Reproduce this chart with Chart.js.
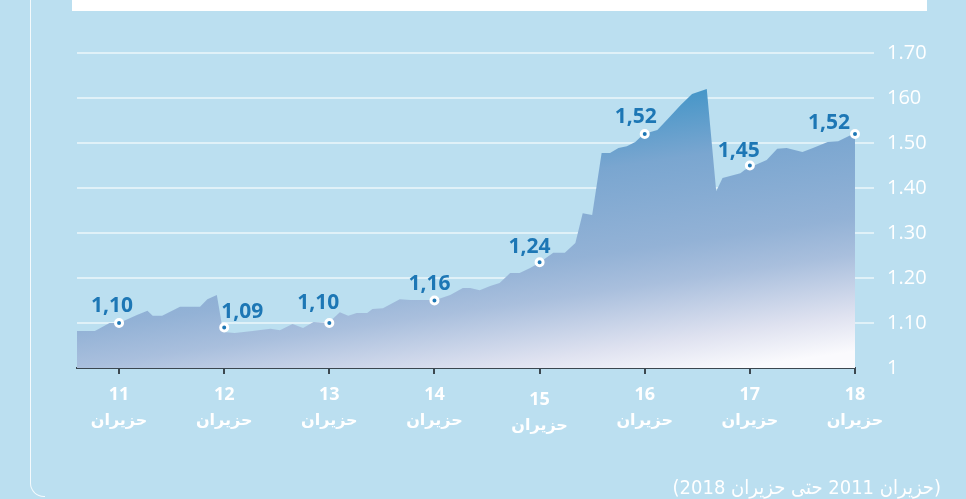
<!DOCTYPE html>
<html>
<head>
<meta charset="utf-8">
<script src="https://cdn.jsdelivr.net/npm/chart.js@4.4.0/dist/chart.umd.min.js"></script>
<style>
  html, body { margin: 0; padding: 0; }
  body { width: 966px; height: 499px; background: #bbdff0; position: relative; overflow: hidden; }
  #topbar { position: absolute; left: 72px; top: 0; width: 855px; height: 11px; background: #fff; }
  #frame { position: absolute; left: 30px; top: -20px; width: 14px; height: 516px;
           border-left: 1.5px solid rgba(255,255,255,0.85); border-bottom: 1.5px solid rgba(255,255,255,0.85);
           border-bottom-left-radius: 14px; }
  #chart { position: absolute; left: 0; top: 0; }
  #note { position: absolute; right: 25px; top: 475px; color: #fff; font: 20px "DejaVu Sans Condensed", "DejaVu Sans", sans-serif;
          direction: rtl; white-space: nowrap; }
</style>
</head>
<body>
<div id="topbar"></div>
<div id="frame"></div>
<canvas id="chart" width="966" height="499"></canvas>
<div id="note"></div>
<script>
//================================================================ Data ================
// area series (x = day of June)
var areaYears = [10.60, 10.77, 10.91, 11.00, 11.17, 11.27, 11.32, 11.41, 11.58, 11.77, 11.84, 11.93,
    11.99, 12.10, 12.27, 12.44, 12.53, 12.65, 12.75, 12.85, 12.99, 13.10, 13.18, 13.26, 13.36, 13.41,
    13.51, 13.67, 13.77, 13.86, 14.01, 14.15, 14.27, 14.34, 14.43, 14.53, 14.62, 14.72, 14.81, 14.91,
    14.99, 15.13, 15.24, 15.34, 15.41, 15.50, 15.59, 15.67, 15.75, 15.83, 15.91, 15.99, 16.12, 16.21,
    16.34, 16.45, 16.59, 16.68, 16.74, 16.91, 16.95, 17.03, 17.16, 17.26, 17.35, 17.50, 17.60, 17.74,
    17.84, 18.00];
var areaValues = [1.082, 1.082, 1.100, 1.100, 1.118, 1.127, 1.116, 1.116, 1.136, 1.136, 1.153, 1.162,
    1.080, 1.078, 1.082, 1.087, 1.084, 1.098, 1.089, 1.102, 1.100, 1.124, 1.116, 1.122, 1.122, 1.131,
    1.133, 1.153, 1.151, 1.151, 1.151, 1.162, 1.178, 1.178, 1.173, 1.182, 1.189, 1.211, 1.211, 1.222,
    1.233, 1.256, 1.256, 1.278, 1.344, 1.340, 1.478, 1.478, 1.489, 1.493, 1.502, 1.520, 1.529, 1.551,
    1.584, 1.609, 1.620, 1.393, 1.422, 1.433, 1.440, 1.449, 1.462, 1.487, 1.489, 1.480, 1.489, 1.502,
    1.504, 1.522];

// highlighted points
var markerYears = [11, 12, 13, 14, 15, 16, 17, 18];
var markerValues = [1.10, 1.09, 1.10, 1.15, 1.235, 1.52, 1.45, 1.52];
var markerLabels = ['1,10', '1,09', '1,10', '1,16', '1,24', '1,52', '1,45', '1,52'];

// axes
var xTickYears = [11, 12, 13, 14, 15, 16, 17, 18];
var xTickLabels = ['11', '12', '13', '14', '15', '16', '17', '18'];
var monthName = 'حزيران';
var yTicks = [1, 1.1, 1.2, 1.3, 1.4, 1.5, 1.6, 1.7];
var yTickLabels = ['1', '1.10', '1.20', '1.30', '1.40', '1.50', '160', '1.70'];
var noteText = '(حزيران 2011 حتى حزيران 2018)';

document.getElementById('note').textContent = noteText;

//================================================================ Plugins ================
var markerLabelPlugin = {
    id: 'markerLabels',
    afterDatasetsDraw: function(chart) {
        var ctx = chart.ctx, xs = chart.scales.x, ys = chart.scales.y;
        // label offset from its point
        var offs = [[-7, -17], [18, -15], [-11, -20], [-5, -16], [-10, -15], [-9, -17], [-11, -14], [-26, -11]];
        ctx.save();
        ctx.font = 'bold 21px "Open Sans"';
        ctx.fillStyle = '#1d77b5';
        ctx.textAlign = 'center';
        ctx.textBaseline = 'middle';
        for (var i in markerYears) {
            var px = xs.getPixelForValue(markerYears[i]);
            var py = ys.getPixelForValue(markerValues[i]);
            ctx.fillText(markerLabels[i], px + offs[i][0], py + offs[i][1]);
        }
        ctx.restore();
    }
};

var xLabelPlugin = {
    id: 'xLabels',
    afterDraw: function(chart) {
        var ctx = chart.ctx, xs = chart.scales.x, base = chart.chartArea.bottom;
        ctx.save();
        ctx.fillStyle = '#ffffff';
        ctx.textAlign = 'center';
        ctx.textBaseline = 'middle';
        for (var i in xTickYears) {
            var px = xs.getPixelForValue(xTickYears[i]);
            var shift = xTickYears[i] === 15 ? 5 : 0; // 15 sits a bit lower
            ctx.font = 'bold 18px "Open Sans"';
            ctx.fillText(xTickLabels[i], px, base + 27 + shift);
            ctx.font = 'bold 16px "DejaVu Sans"';
            ctx.fillText(monthName, px, base + 53 + shift);
        }
        ctx.restore();
    }
};

//================================================================ Chart ================
var areaData = areaYears.map(function(v, i) { return {x: v, y: areaValues[i]}; });
var markerData = markerYears.map(function(v, i) { return {x: v, y: markerValues[i]}; });

var chrt = document.getElementById('chart').getContext('2d');
var config = {
    type: 'line',
    data: {
        datasets: [{
            data: areaData,
            fill: 'start',
            borderWidth: 0,
            pointRadius: 0,
            tension: 0,
            order: 2,
            backgroundColor: function(context) {
                var a = context.chart.chartArea;
                if (!a) return 'rgba(100,160,210,0.8)';
                var w = a.right - a.left, h = a.bottom - a.top;
                var g = context.chart.ctx.createLinearGradient(a.left + 0.80 * w, a.top + 0.114 * h,
                    a.left + 0.852 * w, a.bottom);
                g.addColorStop(0, 'rgb(70,150,200)');
                g.addColorStop(0.23, 'rgb(122,166,208)');
                g.addColorStop(0.53, 'rgb(147,178,214)');
                g.addColorStop(0.66, 'rgb(169,191,221)');
                g.addColorStop(0.87, 'rgb(223,226,240)');
                g.addColorStop(1, 'rgb(250,250,253)');
                return g;
            }
        }, {
            data: markerData,
            showLine: false,
            pointRadius: 3.5,
            pointBorderWidth: 3,
            pointBackgroundColor: '#1d77b5',
            pointBorderColor: '#ffffff',
            clip: false,
            order: 1
        }]
    },
    options: {
        responsive: false,
        animation: false,
        devicePixelRatio: 1,
        layout: { padding: { left: 77, top: 53, right: 31, bottom: 0 } },
        plugins: { legend: { display: false }, tooltip: { enabled: false } },
        scales: {
            x: {
                type: 'linear',
                min: 10.6,
                max: 18,
                afterBuildTicks: function(scale) {
                    scale.ticks = xTickYears.map(function(v) { return {value: v}; });
                },
                afterFit: function(scale) { scale.height = 131; },
                ticks: { display: false },
                grid: { drawOnChartArea: false, drawTicks: true, tickLength: 6, color: '#3b4750', lineWidth: 2 },
                border: { display: true, color: '#3b4750', width: 2 }
            },
            y: {
                position: 'right',
                min: 1,
                max: 1.7,
                afterBuildTicks: function(scale) {
                    scale.ticks = yTicks.map(function(v) { return {value: v}; });
                },
                afterFit: function(scale) { scale.width = 80; },
                ticks: {
                    padding: 13,
                    color: '#ffffff',
                    font: { family: '"Open Sans"', size: 20, weight: '400' },
                    callback: function(value, index) { return yTickLabels[index]; }
                },
                grid: {
                    tickLength: 19,
                    lineWidth: 2,
                    color: function(ctx) {
                        return ctx.tick && ctx.tick.value === 1 ? 'rgba(0,0,0,0)' : 'rgba(255,255,255,0.55)';
                    }
                },
                border: { display: false }
            }
        }
    },
    plugins: [markerLabelPlugin, xLabelPlugin]
};

var areaChart = new Chart(chrt, config);
</script>
</body>
</html>
